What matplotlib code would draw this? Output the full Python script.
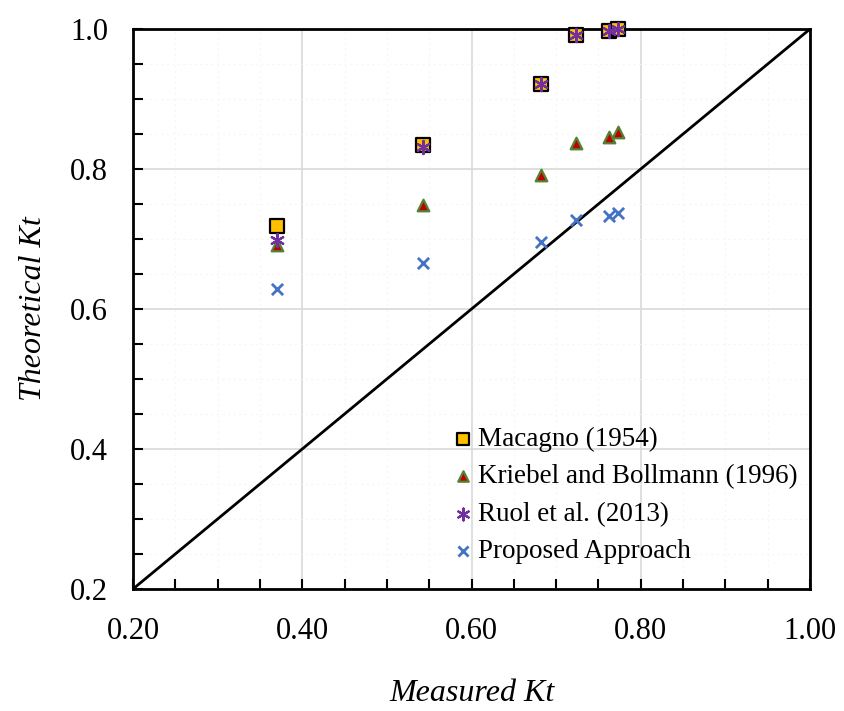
import matplotlib
matplotlib.use("Agg")
import matplotlib.pyplot as plt
from matplotlib.ticker import MultipleLocator, FormatStrFormatter

plt.rcParams['font.family'] = ['Liberation Serif', 'DejaVu Serif']

measured = [0.370, 0.543, 0.682, 0.7235, 0.7625, 0.773]
macagno = [0.719, 0.834, 0.921, 0.991, 0.997, 1.000]
kriebel = [0.691, 0.749, 0.791, 0.837, 0.846, 0.853]
ruol = [0.699, 0.831, 0.921, 0.991, 0.997, 1.000]
proposed = [0.629, 0.666, 0.696, 0.727, 0.733, 0.737]

labels = ["Macagno (1954)", "Kriebel and Bollmann (1996)",
          "Ruol et al. (2013)", "Proposed Approach"]
x_ticks = [0.2, 0.4, 0.6, 0.8, 1.0]
y_ticks = [0.2, 0.4, 0.6, 0.8, 1.0]

fig = plt.figure(figsize=(8.45, 7.11), dpi=100)
ax = fig.add_axes([0.1574, 0.1716, 0.8012, 0.7876])

# 1:1 reference line
ax.plot([0.2, 1.0], [0.2, 1.0], color='black', lw=2, zorder=2)

ax.scatter(measured, macagno, marker='s', s=90, facecolor='#FFC000',
           edgecolor='black', linewidths=1.6, label=labels[0], zorder=3,
           clip_on=False)
ax.scatter(measured, kriebel, marker='^', s=70, facecolor='#C00000',
           edgecolor='#548235', linewidths=1.6, label=labels[1], zorder=4,
           clip_on=False)
ax.scatter(measured, ruol, marker=(6, 2, 0), s=90, color='#7030A0',
           linewidths=1.6, label=labels[2], zorder=5, clip_on=False)
ax.scatter(measured, proposed, marker='x', s=65, color='#4472C4',
           linewidths=2.0, label=labels[3], zorder=5, clip_on=False)

ax.set_xlim(0.2, 1.0)
ax.set_ylim(0.2, 1.0)
ax.set_xticks(x_ticks)
ax.set_yticks(y_ticks)
ax.xaxis.set_major_formatter(FormatStrFormatter('%.2f'))
ax.yaxis.set_major_formatter(FormatStrFormatter('%.1f'))
ax.xaxis.set_minor_locator(MultipleLocator(0.05))
ax.yaxis.set_minor_locator(MultipleLocator(0.05))

ax.grid(which='major', color='#D9D9D9', lw=1.2, zorder=0)
ax.grid(which='minor', color='#F6F6F6', lw=0.8, ls=(0, (2, 3)), zorder=0)
ax.set_axisbelow(True)

ax.tick_params(which='both', direction='in', length=7, width=1.5,
               labelsize=22, top=False, right=False)
ax.tick_params(axis='x', which='major', pad=20)
ax.tick_params(axis='y', which='major', pad=18)
for sp in ax.spines.values():
    sp.set_linewidth(2)
    sp.set_color('black')

ax.set_xlabel('Measured Kt', fontsize=23, style='italic', labelpad=24)
ax.set_ylabel('Theoretical Kt', fontsize=23, style='italic', labelpad=16)

leg = ax.legend(loc='lower left', bbox_to_anchor=(0.46, 0.035), frameon=False,
                fontsize=19.5, handletextpad=0.05, labelspacing=0.45,
                borderaxespad=0.0, borderpad=0.2, handlelength=1.0,
                markerscale=0.9)

fig.savefig('out.png', dpi=100)
